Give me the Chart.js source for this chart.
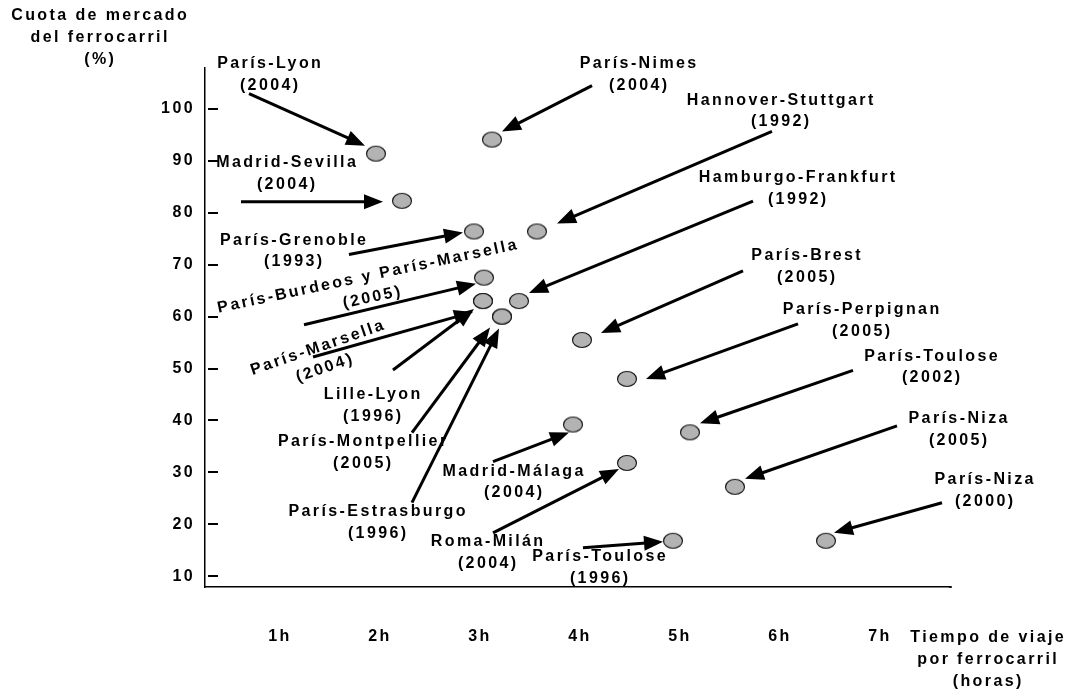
<!DOCTYPE html>
<html>
<head>
  <title>Cuota de mercado del ferrocarril</title>
  <script src="https://cdn.jsdelivr.net/npm/chart.js"></script>
  <style>
    body { margin: 0; background: #fff; }
  </style>
</head>
<body>
  <canvas id="cuotaChart" width="1072" height="695"></canvas>

  <script>
    // Datos: rutas, año, tiempo de viaje (h) y cuota del ferrocarril (%)
    const routes = [
      'París-Lyon', 'París-Nimes', 'Madrid-Sevilla', 'París-Grenoble',
      'Hannover-Stuttgart', 'París-Burdeos y París-Marsella', 'París-Marsella',
      'Hamburgo-Frankfurt', 'Lille-Lyon', 'París-Montpellier', 'París-Estrasburgo',
      'París-Brest', 'París-Perpignan', 'Madrid-Málaga', 'París-Toulose',
      'Roma-Milán', 'París-Niza', 'París-Toulose', 'París-Niza'
    ];
    const years = [
      '2004', '2004', '2004', '1993', '1992', '2005', '2004', '1992', '1996', '2005',
      '1996', '2005', '2005', '2004', '2002', '2004', '2005', '1996', '2000'
    ];
    const travelHours = [
      1.96, 3.12, 2.22, 2.94, 3.57, 3.04, 3.03, 3.39, 3.03, 3.22,
      3.22, 4.02, 4.47, 3.93, 5.10, 4.47, 5.55, 4.93, 6.46
    ];
    const railShare = [
      91.4, 94.1, 82.3, 76.4, 76.4, 67.5, 63.0, 63.0, 63.0, 60.0,
      60.0, 55.5, 48.0, 39.2, 37.7, 31.8, 27.2, 16.8, 16.8
    ];
    const hourTicks = [1, 2, 3, 4, 5, 6, 7];
    const hourLabels = ['1h', '2h', '3h', '4h', '5h', '6h', '7h'];
    const shareTicks = [10, 20, 30, 40, 50, 60, 70, 80, 90, 100];
    const shareLabels = ['10', '20', '30', '40', '50', '60', '70', '80', '90', '100'];

    // Posición de cada rótulo y flecha, en píxeles respecto al punto
    const callouts = [
      { tail: [-127, -60], tip: [-11, -8], text: [-107, -90] },
      { tail: [100, -54], tip: [10, -8], text: [146, -76] },
      { tail: [-161, 1], tip: [-19, 1], text: [-116, -38] },
      { tail: [-125, 23], tip: [-11, 1], text: [-181, 9] },
      { tail: [235, -100], tip: [20, -8], text: [243, -131] },
      { tail: [-180, 47], tip: [-8, 6], text: [-117, -1], angle: -12 },
      { tail: [-170, 56], tip: [-10, 11], text: [-166, 47], angle: -19 },
      { tail: [234, -100], tip: [10, -8], text: [278, -123] },
      { tail: [-90, 69], tip: [-9, 8], text: [-111, 94] },
      { tail: [-90, 116], tip: [-12, 11], text: [-140, 125] },
      { tail: [-90, 186], tip: [-3, 12], text: [-125, 195] },
      { tail: [161, -69], tip: [19, -7], text: [224, -84] },
      { tail: [171, -55], tip: [19, 0], text: [234, -69] },
      { tail: [-80, 37], tip: [-4, 8], text: [-60, 47] },
      { tail: [163, -62], tip: [10, -9], text: [241, -76] },
      { tail: [-134, 70], tip: [-8, 6], text: [-140, 79] },
      { tail: [162, -61], tip: [10, -8], text: [223, -68] },
      { tail: [-90, 7], tip: [-10, 1], text: [-74, 16] },
      { tail: [116, -38], tip: [8, -8], text: [158, -61] }
    ];

    const FONT = 'bold 16px "Liberation Sans", Arial, sans-serif';
    const SPACING = 2.4;

    // punto gris ovalado
    const dot = document.createElement('canvas');
    dot.width = 22;
    dot.height = 18;
    const dc = dot.getContext('2d');
    dc.beginPath();
    dc.ellipse(11, 9, 9.5, 7.5, 0, 0, Math.PI * 2);
    dc.fillStyle = '#b3b3b3';
    dc.fill();
    dc.lineWidth = 1.2;
    dc.strokeStyle = '#1a1a1a';
    dc.stroke();

    function arrow(ctx, x1, y1, x2, y2) {
      const ang = Math.atan2(y2 - y1, x2 - x1);
      const len = 19, half = 7.5;
      const bx = x2 - Math.cos(ang) * len;
      const by = y2 - Math.sin(ang) * len;
      ctx.beginPath();
      ctx.moveTo(x1, y1);
      ctx.lineTo(bx + Math.cos(ang) * 2, by + Math.sin(ang) * 2);
      ctx.stroke();
      ctx.beginPath();
      ctx.moveTo(x2, y2);
      ctx.lineTo(bx - Math.sin(ang) * half, by + Math.cos(ang) * half);
      ctx.lineTo(bx + Math.sin(ang) * half, by - Math.cos(ang) * half);
      ctx.closePath();
      ctx.fill();
    }

    // texto centrado, compensando el espaciado final
    function centered(ctx, t, x, y) {
      ctx.fillText(t, x + SPACING / 2, y);
    }

    const decoraciones = {
      id: 'decoraciones',
      beforeDraw(chart) {
        chart.ctx.letterSpacing = SPACING + 'px';
      },
      afterDatasetsDraw(chart) {
        const ctx = chart.ctx;
        const xs = chart.scales.x, ys = chart.scales.y;
        const area = chart.chartArea;
        ctx.save();
        ctx.letterSpacing = SPACING + 'px';
        ctx.fillStyle = '#000';
        ctx.strokeStyle = '#000';

        // el eje X sigue un poco más allá del área
        ctx.lineWidth = 1.5;
        ctx.beginPath();
        ctx.moveTo(area.right - 1, area.bottom);
        ctx.lineTo(area.right + 2, area.bottom);
        ctx.stroke();

        // marcas del eje Y (dentro del área)
        ctx.lineWidth = 2;
        ys.ticks.forEach(t => {
          const y = Math.round(ys.getPixelForValue(t.value));
          ctx.beginPath();
          ctx.moveTo(area.left + 3, y);
          ctx.lineTo(area.left + 13, y);
          ctx.stroke();
        });

        // flechas
        ctx.lineWidth = 3;
        routes.forEach((r, i) => {
          const px = xs.getPixelForValue(travelHours[i]);
          const py = ys.getPixelForValue(railShare[i]);
          const c = callouts[i];
          arrow(ctx, px + c.tail[0], py + c.tail[1], px + c.tip[0], py + c.tip[1]);
        });

        // rótulos
        ctx.font = FONT;
        ctx.textAlign = 'center';
        ctx.textBaseline = 'middle';
        routes.forEach((r, i) => {
          const px = xs.getPixelForValue(travelHours[i]);
          const py = ys.getPixelForValue(railShare[i]);
          const c = callouts[i];
          ctx.save();
          ctx.translate(px + c.text[0], py + c.text[1]);
          ctx.rotate((c.angle || 0) * Math.PI / 180);
          centered(ctx, r, 0, 0);
          centered(ctx, '(' + years[i] + ')', 0, 21.5);
          ctx.restore();
        });

        // títulos de los ejes
        ['Cuota de mercado', 'del ferrocarril', '(%)'].forEach((t, k) => {
          centered(ctx, t, 99, 16 + k * 22);
        });
        ['Tiempo de viaje', 'por ferrocarril', '(horas)'].forEach((t, k) => {
          centered(ctx, t, 987, 638 + k * 22);
        });
        ctx.restore();
      }
    };

    const tickFont = { family: '"Liberation Sans", Arial, sans-serif', size: 16, weight: 'bold' };

    new Chart(document.getElementById('cuotaChart'), {
      type: 'scatter',
      data: {
        datasets: [{
          data: travelHours.map((h, i) => ({ x: h, y: railShare[i] })),
          pointStyle: dot,
          pointRadius: 10,
          pointHoverRadius: 10
        }]
      },
      options: {
        responsive: false,
        animation: false,
        events: [],
        layout: { padding: { top: 68, right: 122, left: 0, bottom: 0 } },
        plugins: {
          legend: { display: false },
          tooltip: { enabled: false }
        },
        scales: {
          x: {
            type: 'linear',
            min: 0.25,
            max: 7.7,
            grid: { display: false, drawTicks: false },
            border: { color: '#000', width: 1.5 },
            afterBuildTicks: s => { s.ticks = hourTicks.map(v => ({ value: v })); },
            afterFit: s => { s.height = 108; },
            ticks: {
              padding: 40,
              color: '#000',
              font: tickFont,
              maxRotation: 0,
              callback: v => hourLabels[hourTicks.indexOf(v)]
            }
          },
          y: {
            min: 7.9,
            max: 107.9,
            grid: { display: false, drawTicks: false },
            border: { color: '#000', width: 1.5 },
            afterBuildTicks: s => { s.ticks = shareTicks.map(v => ({ value: v })); },
            afterFit: s => { s.width = 205; },
            ticks: {
              padding: 10,
              color: '#000',
              font: tickFont,
              callback: v => shareLabels[shareTicks.indexOf(v)]
            }
          }
        }
      },
      plugins: [decoraciones]
    });
  </script>
</body>
</html>
